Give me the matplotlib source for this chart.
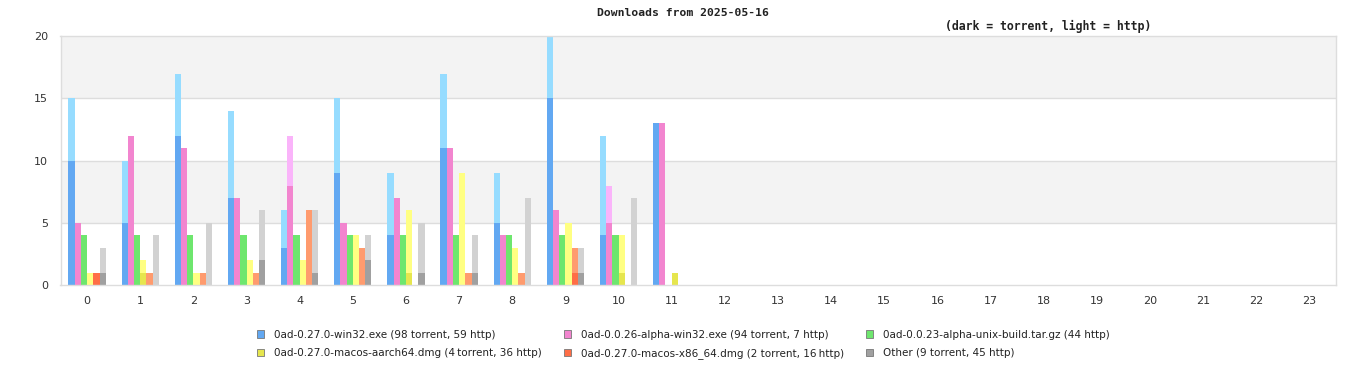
import matplotlib
matplotlib.use("Agg")
import matplotlib.pyplot as plt
from matplotlib.patches import Patch
import numpy as np

hours = list(range(24))
series_names = [
    "0ad-0.27.0-win32.exe (98 torrent, 59 http)",
    "0ad-0.0.26-alpha-win32.exe (94 torrent, 7 http)",
    "0ad-0.0.23-alpha-unix-build.tar.gz (44 http)",
    "0ad-0.27.0-macos-aarch64.dmg (4\u2009torrent, 36 http)",
    "0ad-0.27.0-macos-x86_64.dmg (2 torrent, 16\u2009http)",
    "Other (9 torrent, 45 http)",
]
# torrent / http per hour (hours 0..11; rest zero)
win32_torrent = [10, 5, 12, 7, 3, 9, 4, 11, 5, 15, 4, 13]
win32_http    = [5, 5, 5, 7, 3, 6, 5, 6, 4, 5, 8, 0]
a26_torrent   = [5, 12, 11, 7, 8, 5, 7, 11, 4, 6, 5, 13]
a26_http      = [0, 0, 0, 0, 4, 0, 0, 0, 0, 0, 3, 0]
a23_torrent   = [0] * 12
a23_http      = [4, 4, 4, 4, 4, 4, 4, 4, 4, 4, 4, 0]
arm_torrent   = [0, 1, 0, 0, 0, 0, 1, 0, 0, 0, 1, 1]
arm_http      = [1, 1, 1, 2, 2, 4, 5, 9, 3, 5, 3, 0]
x86_torrent   = [1, 0, 0, 0, 0, 0, 0, 0, 0, 1, 0, 0]
x86_http      = [0, 1, 1, 1, 6, 3, 0, 1, 1, 2, 0, 0]
other_torrent = [1, 0, 0, 2, 1, 2, 1, 1, 0, 1, 0, 0]
other_http    = [2, 4, 5, 4, 5, 2, 4, 3, 7, 2, 7, 0]

torrents = [win32_torrent, a26_torrent, a23_torrent, arm_torrent, x86_torrent, other_torrent]
https = [win32_http, a26_http, a23_http, arm_http, x86_http, other_http]
dark_colors = ["#62A8F2", "#F285CF", "#6EE66E", "#E6E64E", "#FF6E46", "#A0A0A0"]
light_colors = ["#96DCFF", "#FAB4FA", "#6EE66E", "#FFFF82", "#FF9B6E", "#D2D2D2"]

fig = plt.figure(figsize=(13.66, 3.8), dpi=100)
ax = fig.add_axes([60.5 / 1366, 95 / 380, (1336 - 60.5) / 1366, (285 - 36.3) / 380])

ax.set_xlim(-0.5, 23.5)
ax.set_ylim(0, 20)
for lo, hi in [(5, 10), (15, 20)]:
    ax.axhspan(lo, hi, color="#F3F3F3", zorder=0, lw=0)
for y in [5, 10, 15]:
    ax.axhline(y, color="#DDDDDD", lw=1, zorder=0.5)

w = 0.117
x = np.arange(24)
for i in range(6):
    t = np.array(torrents[i] + [0] * (24 - len(torrents[i])))
    h = np.array(https[i] + [0] * (24 - len(https[i])))
    pos = x + (i - 2.5) * w
    ax.bar(pos, t, width=w, color=dark_colors[i], lw=0, zorder=2)
    ax.bar(pos, h, width=w, bottom=t, color=light_colors[i], lw=0, zorder=2)

for s in ax.spines.values():
    s.set_color("#DDDDDD")
    s.set_linewidth(1)
ax.set_xticks(hours)
ax.set_xticklabels([str(v) for v in hours])
ax.set_yticks([0, 5, 10, 15, 20])
ax.tick_params(length=0, labelsize=8, colors="#333333", pad=8)
ax.tick_params(axis="y", pad=9)

fig.text(683 / 1366, 1 - 13 / 380, "Downloads from 2025-05-16", ha="center", va="center",
         fontsize=8.2, family="DejaVu Sans Mono", fontweight="bold", color="#222222")
fig.text(1048 / 1366, 1 - 26 / 380, "(dark = torrent, light = http)", ha="center", va="center",
         fontsize=8.3, family="DejaVu Sans Mono", fontweight="bold", color="#222222")

handles = [Patch(facecolor=c, edgecolor="#777777", lw=0.6) for c in dark_colors]
order = [0, 3, 1, 4, 2, 5]
leg = fig.legend([handles[k] for k in order], [series_names[k] for k in order],
                 ncol=3, loc="center", bbox_to_anchor=(683.5 / 1366, 1 - 344.5 / 380),
                 frameon=False, fontsize=7.5, handlelength=0.7, handleheight=0.7,
                 handletextpad=1.0, columnspacing=2.05, labelspacing=0.85)
for t in leg.get_texts():
    t.set_color("#222222")

fig.savefig("out.png", dpi=100)
